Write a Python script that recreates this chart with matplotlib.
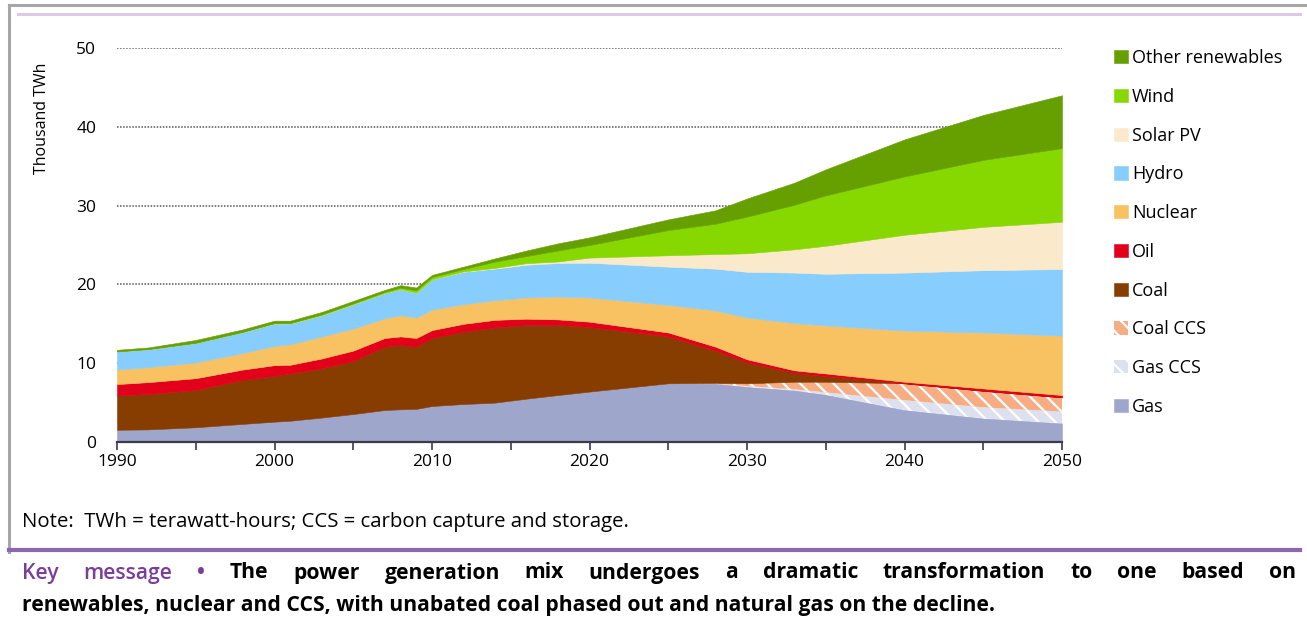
import matplotlib
matplotlib.use("Agg")
import matplotlib.pyplot as plt
from matplotlib.lines import Line2D
from matplotlib.ticker import MultipleLocator

plt.rcParams['font.family'] = ['Open Sans', 'DejaVu Sans']
plt.rcParams['hatch.linewidth'] = 1.6

years = [1990, 1992, 1995, 1998, 2000, 2001, 2003, 2005, 2007, 2008, 2009, 2010,
         2012, 2014, 2016, 2018, 2020, 2025, 2028, 2030, 2033, 2035, 2040, 2045, 2050]

gas = [1.55, 1.6, 1.87, 2.3, 2.58, 2.7, 3.1, 3.55, 4.06, 4.15, 4.2, 4.57,
       4.82, 5.0, 5.5, 5.96, 6.4, 7.45, 7.4, 7.0, 6.55, 6.0, 4.06, 3.0, 2.37]
gas_ccs = [0, 0, 0, 0, 0, 0, 0, 0, 0, 0, 0, 0,
           0, 0, 0, 0, 0, 0, 0, 0.1, 0.15, 0.3, 1.24, 1.4, 1.48]
coal_ccs = [0, 0, 0, 0, 0, 0, 0, 0, 0, 0, 0, 0,
            0, 0, 0, 0, 0, 0, 0.1, 0.35, 0.95, 1.35, 2.15, 2.1, 1.82]
coal = [4.35, 4.5, 4.73, 5.6, 5.82, 6.0, 6.25, 6.75, 8.04, 8.15, 7.9, 8.63,
        9.18, 9.55, 9.35, 8.9, 8.2, 5.95, 4.1, 2.65, 1.15, 0.7, 0, 0, 0]
oil = [1.45, 1.5, 1.5, 1.3, 1.35, 1.1, 1.25, 1.3, 1.1, 1.1, 1.1, 1.0,
       1.0, 0.95, 0.8, 0.7, 0.67, 0.5, 0.5, 0.4, 0.3, 0.35, 0.2, 0.3, 0.29]
nuclear = [1.85, 1.9, 2.0, 2.1, 2.45, 2.6, 2.8, 2.8, 2.5, 2.7, 2.6, 2.6,
           2.5, 2.5, 2.7, 2.9, 3.08, 3.5, 4.6, 5.3, 6.0, 6.1, 6.5, 7.1, 7.54]
hydro = [2.3, 2.3, 2.5, 2.7, 2.85, 2.66, 2.7, 3.1, 3.2, 3.3, 3.15, 3.85,
         4.1, 4.0, 4.15, 4.25, 4.4, 4.85, 5.3, 5.8, 6.4, 6.55, 7.35, 7.9, 8.45]
solar = [0, 0, 0, 0, 0, 0, 0, 0, 0, 0, 0, 0,
         0.05, 0.1, 0.2, 0.2, 0.65, 1.45, 1.85, 2.35, 2.95, 3.55, 4.8, 5.5, 6.0]
wind = [0, 0, 0, 0, 0.05, 0.05, 0.1, 0.1, 0.15, 0.2, 0.3, 0.3,
        0.3, 0.8, 0.9, 1.4, 1.6, 3.2, 3.85, 4.65, 5.65, 6.4, 7.4, 8.5, 9.35]
other = [0.2, 0.2, 0.35, 0.3, 0.3, 0.29, 0.3, 0.3, 0.25, 0.3, 0.35, 0.25,
         0.3, 0.4, 0.7, 0.9, 0.97, 1.35, 1.7, 2.3, 2.8, 3.3, 4.7, 5.7, 6.7]

labels = ["Gas", "Gas CCS", "Coal CCS", "Coal", "Oil", "Nuclear", "Hydro",
          "Solar PV", "Wind", "Other renewables"]
colors = ["#9ea6cb", "#dde0ef", "#f6ad84", "#873c00", "#e2001a", "#f8c262",
          "#87cefe", "#fbe9cb", "#86d800", "#66a000"]

fig = plt.figure(figsize=(13.07, 6.19), dpi=100)
ax = fig.add_axes([117 / 1307, 1 - 442 / 619, 945 / 1307, 394 / 619])

polys = ax.stackplot(years, gas, gas_ccs, coal_ccs, coal, oil, nuclear, hydro,
                     solar, wind, other, colors=colors, labels=labels,
                     linewidth=0.4)
for p, c in zip(polys, colors):
    p.set_edgecolor(c)
for i in (1, 2):
    polys[i].set_hatch('\\\\')
    polys[i].set_edgecolor('white')
    polys[i].set_linewidth(0)

ax.set_xlim(1990, 2050)
ax.set_ylim(0, 50)
ax.set_axisbelow(True)
ax.yaxis.grid(True, linestyle=(0, (1, 1)), color='#555555', linewidth=1.1)
ax.set_yticks([0, 10, 20, 30, 40, 50])
ax.xaxis.set_major_locator(MultipleLocator(10))
ax.xaxis.set_minor_locator(MultipleLocator(5))
for s in ('top', 'right', 'left'):
    ax.spines[s].set_visible(False)
ax.spines['bottom'].set_color('#3a3a4a')
ax.spines['bottom'].set_linewidth(1.6)
ax.tick_params(axis='x', which='both', direction='out', length=6, width=1.2,
               color='#3a3a4a', labelsize=12.5, pad=3)
ax.tick_params(axis='y', length=0, labelsize=12.5, pad=15)

fig.text(42 / 1307, 1 - 118 / 619, "Thousand TWh", rotation=90,
         ha='center', va='center', fontsize=11.5)

handles, labs = ax.get_legend_handles_labels()
fig.legend(handles[::-1], labs[::-1], loc='upper left',
           bbox_to_anchor=(1114 / 1307, 1 - 49 / 619), frameon=False,
           fontsize=13, handlelength=0.8, handleheight=0.75,
           handletextpad=0.2, labelspacing=1.15, borderpad=0, borderaxespad=0)

# frame and rules of the report page
fig.add_artist(Line2D([9 / 1307, 9 / 1307], [1 - 5 / 619, 1 - 552 / 619],
                      color='#a6a6a6', lw=2.2))
fig.add_artist(Line2D([9 / 1307, 1], [1 - 5 / 619, 1 - 5 / 619],
                      color='#a6a6a6', lw=2.2))
fig.add_artist(Line2D([18 / 1307, 1300 / 1307], [1 - 14 / 619, 1 - 14 / 619],
                      color='#dcc9e4', lw=2.2))
fig.add_artist(Line2D([9 / 1307, 1300 / 1307], [1 - 550 / 619, 1 - 550 / 619],
                      color='#8a67ae', lw=3))

fig.text(22 / 1307, 1 - 522 / 619,
         "Note:  TWh = terawatt-hours; CCS = carbon capture and storage.",
         ha='left', va='center', fontsize=14.7)

# key message, first line justified
purple = '#7a3d9a'
words1 = [("Key", purple, 'semibold'), ("message", purple, 'semibold'), ("\u2022", purple, 'bold')]
for w in "The power generation mix undergoes a dramatic transformation to one based on".split():
    words1.append((w, 'black', 'bold'))
y1 = 1 - 573 / 619
texts = [fig.text(0, y1, w, color=c, fontweight=fw, fontsize=15.2, ha='left', va='center')
         for w, c, fw in words1]
renderer = fig.canvas.get_renderer()
widths = [t.get_window_extent(renderer).width for t in texts]
x0, x1 = 22, 1296
gap = (x1 - x0 - sum(widths)) / (len(widths) - 1)
x = x0
for t, wd in zip(texts, widths):
    t.set_x(x / 1307)
    x += wd + gap

fig.text(22 / 1307, 1 - 606 / 619,
         "renewables, nuclear and CCS, with unabated coal phased out and natural gas on the decline.",
         ha='left', va='center', fontsize=15.2, fontweight='bold')

fig.savefig("out.png", dpi=100)
